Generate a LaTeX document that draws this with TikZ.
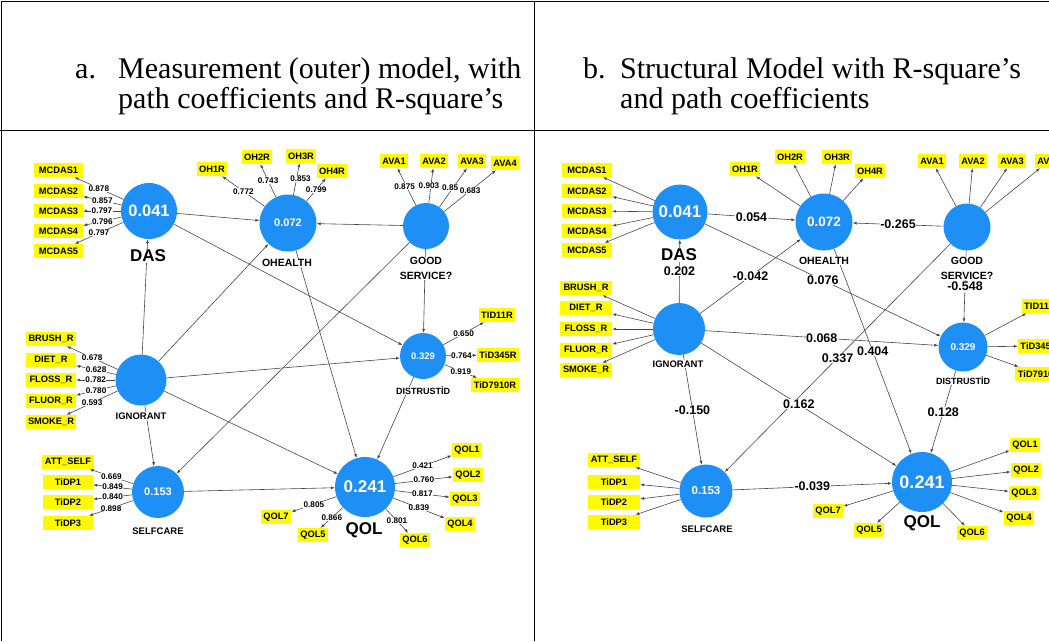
\documentclass[tikz,border=0pt]{standalone}
\usepackage{fontspec}
\setmainfont{Liberation Serif}
\setsansfont{Liberation Sans}
\usetikzlibrary{arrows.meta}
\definecolor{lvblue}{RGB}{30,144,245}
\definecolor{mvyellow}{RGB}{255,250,0}
\definecolor{edgegray}{RGB}{70,70,70}

\begin{document}
\begin{tikzpicture}[x=1pt,y=-1pt]

\tikzset{lv/.style 2 args={circle, fill=lvblue, text=white, inner sep=0pt, minimum size=#1, font=\sffamily\bfseries\fontsize{#2}{#2}\selectfont}}
\tikzset{mv/.style={fill=mvyellow, inner xsep=2.5pt, inner ysep=0pt, minimum height=14pt, font=\sffamily\bfseries\fontsize{9.3}{9.5}\selectfont}}
\tikzset{lvname/.style={fill=white, inner sep=0.5pt, align=center, font=\sffamily\bfseries\fontsize{#1}{#1}\selectfont}}
\tikzset{edge/.style={-{Latex[length=4pt,width=3pt]}, draw=edgegray, line width=0.6pt}}
\tikzset{load/.style={fill=white, inner sep=0.4pt, font=\sffamily\bfseries\fontsize{8.2}{8.2}\selectfont}}
\tikzset{pcoef/.style={fill=white, inner sep=0.6pt, font=\sffamily\bfseries\fontsize{12.5}{12.5}\selectfont}}
\tikzset{head/.style={inner sep=0pt, anchor=base west, font=\fontsize{30}{30}\selectfont}}

\useasboundingbox (0,0) rectangle (1049,641);
\clip (0,0) rectangle (1049,641);

%table
\draw[line width=0.8pt] (1,641) -- (1,1) -- (1049,1);
\draw[line width=0.8pt] (0,130) -- (1049,130);
\draw[line width=0.8pt] (534,1) -- (534,641);
\node[head] (nra) at (75,78) {a.};
\node[head] (hda1) at (118,78) {Measurement (outer) model, with};
\node[head] (hda2) at (118,108) {path coefficients and R-square’s};
\node[head] (nrb) at (583,78) {b.};
\node[head] (hdb1) at (620,78) {Structural Model with R-square’s};
\node[head] (hdb2) at (620,108) {and path coefficients};

%left panel: latent variables
\node[lv={56}{16.5}] (das1) at (149,211) {0.041};
\node[lv={57}{11}] (oh1) at (288,223) {0.072};
\node[lv={46}{10}] (gs1) at (426,226) {};
\node[lv={51}{10}] (ig1) at (141,380) {};
\node[lv={46}{9.5}] (di1) at (423,356) {0.329};
\node[lv={52}{11}] (sc1) at (158,492) {0.153};
\node[lv={60}{17}] (ql1) at (365,487) {0.241};

%left panel: indicators
\node[mv, minimum width=49] (mcdas11) at (58.5,170) {MCDAS1};
\node[mv, minimum width=49] (mcdas12) at (58.5,191) {MCDAS2};
\node[mv, minimum width=49] (mcdas13) at (58.5,211) {MCDAS3};
\node[mv, minimum width=49] (mcdas14) at (58.5,231) {MCDAS4};
\node[mv, minimum width=49] (mcdas15) at (58.5,251) {MCDAS5};
\node[mv] (oh1r1) at (212,169) {OH1R};
\node[mv] (oh2r1) at (257,157) {OH2R};
\node[mv] (oh3r1) at (301,156) {OH3R};
\node[mv] (oh4r1) at (332,171) {OH4R};
\node[mv] (ava11) at (394,161) {AVA1};
\node[mv] (ava21) at (434,161) {AVA2};
\node[mv] (ava31) at (472,161) {AVA3};
\node[mv] (ava41) at (505,163) {AVA4};
\node[mv, minimum width=50] (brush1) at (51,339) {BRUSH\_R};
\node[mv, minimum width=50] (diet1) at (51,360) {DIET\_R};
\node[mv, minimum width=50] (floss1) at (51,380) {FLOSS\_R};
\node[mv, minimum width=50] (fluor1) at (51,401) {FLUOR\_R};
\node[mv, minimum width=50] (smoke1) at (51,422) {SMOKE\_R};
\node[mv] (tid111) at (497,315) {TID11R};
\node[mv] (tid3451) at (498,355) {TiD345R};
\node[mv] (tid79101) at (495,385) {TiD7910R};
\node[mv, minimum width=50] (att1) at (68,462) {ATT\_SELF};
\node[mv, minimum width=50] (tidp11) at (68,482) {TiDP1};
\node[mv, minimum width=50] (tidp21) at (68,502) {TiDP2};
\node[mv, minimum width=50] (tidp31) at (68,523) {TiDP3};
\node[mv] (qol11) at (467,450) {QOL1};
\node[mv] (qol21) at (468,475) {QOL2};
\node[mv] (qol31) at (465,499) {QOL3};
\node[mv] (qol41) at (460,524) {QOL4};
\node[mv] (qol61) at (415,540) {QOL6};
\node[mv] (qol51) at (313,535) {QOL5};
\node[mv] (qol71) at (276,517) {QOL7};

%left panel: outer loadings
\draw[edge] (das1) -- node[load] {0.878} (mcdas11);
\draw[edge] (das1) -- node[load] {0.857} (mcdas12);
\draw[edge] (das1) -- node[load] {0.797} (mcdas13);
\draw[edge] (das1) -- node[load] {0.796} (mcdas14);
\draw[edge] (das1) -- node[load] {0.797} (mcdas15);
\draw[edge] (oh1) -- node[load] {0.772} (oh1r1);
\draw[edge] (oh1) -- node[load] {0.743} (oh2r1);
\draw[edge] (oh1) -- node[load, xshift=4] {0.853} (oh3r1);
\draw[edge] (oh1) -- node[load] {0.799} (oh4r1);
\draw[edge] (gs1) -- node[load, xshift=-2] {0.875} (ava11);
\draw[edge] (gs1) -- node[load, xshift=-2] {0.903} (ava21);
\draw[edge] (gs1) -- node[load, xshift=-3] {0.85} (ava31);
\draw[edge] (gs1) -- node[load] {0.683} (ava41);
\draw[edge] (ig1) -- node[load] {0.678} (brush1);
\draw[edge] (ig1) -- node[load] {0.628} (diet1);
\draw[edge] (ig1) -- node[load] {0.782} (floss1);
\draw[edge] (ig1) -- node[load] {0.780} (fluor1);
\draw[edge] (ig1) -- node[load] {0.593} (smoke1);
\draw[edge] (di1) -- node[load] {0.650} (tid111);
\draw[edge] (di1) -- node[load] {0.764} (tid3451);
\draw[edge] (di1) -- node[load] {0.919} (tid79101);
\draw[edge] (sc1) -- node[load] {0.669} (att1);
\draw[edge] (sc1) -- node[load] {0.849} (tidp11);
\draw[edge] (sc1) -- node[load] {0.840} (tidp21);
\draw[edge] (sc1) -- node[load] {0.898} (tidp31);
\draw[edge] (ql1) -- node[load] {0.421} (qol11);
\draw[edge] (ql1) -- node[load] {0.760} (qol21);
\draw[edge] (ql1) -- node[load] {0.817} (qol31);
\draw[edge] (ql1) -- node[load] {0.839} (qol41);
\draw[edge] (ql1) -- node[load] {0.801} (qol61);
\draw[edge] (ql1) -- node[load] {0.866} (qol51);
\draw[edge] (ql1) -- node[load] {0.805} (qol71);

%left panel: inner model
\draw[edge] (ig1) -- (das1);
\draw[edge] (das1) -- (oh1);
\draw[edge] (das1) -- (di1);
\draw[edge] (gs1) -- (oh1);
\draw[edge] (gs1) -- (di1);
\draw[edge] (gs1) -- (sc1);
\draw[edge] (ig1) -- (oh1);
\draw[edge] (ig1) -- (di1);
\draw[edge] (ig1) -- (sc1);
\draw[edge] (ig1) -- (ql1);
\draw[edge] (oh1) -- (ql1);
\draw[edge] (di1) -- (ql1);
\draw[edge] (sc1) -- (ql1);

%left panel: names
\node[lvname=17] (dasn1) at (148,256) {DAS};
\node[lvname=10.5] (ohn1) at (287,263) {OHEALTH};
\node[lvname=10.5, font=\sffamily\bfseries\fontsize{10.5}{15}\selectfont] (gsn1) at (426,268.5) {GOOD\\SERVICE?};
\node[lvname=9.5] (ign1) at (141,416) {IGNORANT};
\node[lvname=9] (din1) at (423,391) {DISTRUSTİD};
\node[lvname=9.5] (scn1) at (158,531) {SELFCARE};
\node[lvname=17] (qln1) at (364,530) {QOL};

%right panel: latent variables
\node[lv={55}{17}] (das2) at (680,212) {0.041};
\node[lv={57}{13.5}] (oh2) at (824,222) {0.072};
\node[lv={47}{10}] (gs2) at (967,227) {};
\node[lv={52}{10}] (ig2) at (679,329) {};
\node[lv={49}{10}] (di2) at (963,347) {0.329};
\node[lv={53}{11.5}] (sc2) at (706,491) {0.153};
\node[lv={60}{18}] (ql2) at (922,482) {0.241};

%right panel: indicators
\node[mv, minimum width=50] (mcdas12r) at (587,170) {MCDAS1};
\node[mv, minimum width=50] (mcdas22) at (587,191) {MCDAS2};
\node[mv, minimum width=50] (mcdas32) at (587,211) {MCDAS3};
\node[mv, minimum width=50] (mcdas42) at (587,231) {MCDAS4};
\node[mv, minimum width=50] (mcdas52) at (587,250) {MCDAS5};
\node[mv] (oh1r2) at (745,169) {OH1R};
\node[mv] (oh2r2) at (790,157) {OH2R};
\node[mv] (oh3r2) at (837,157) {OH3R};
\node[mv] (oh4r2) at (870,171) {OH4R};
\node[mv] (ava12) at (932,161) {AVA1};
\node[mv] (ava22) at (973,161) {AVA2};
\node[mv] (ava32) at (1012,161) {AVA3};
\node[mv] (ava42) at (1049,161) {AVA4};
\node[mv, minimum width=52] (brush2) at (586,288) {BRUSH\_R};
\node[mv, minimum width=52] (diet2) at (586,308) {DIET\_R};
\node[mv, minimum width=52] (floss2) at (586,329) {FLOSS\_R};
\node[mv, minimum width=52] (fluor2) at (586,350) {FLUOR\_R};
\node[mv, minimum width=52] (smoke2) at (586,370) {SMOKE\_R};
\node[mv] (tid112) at (1040,306) {TID11R};
\node[mv] (tid3452) at (1039,346) {TiD345R};
\node[mv] (tid79102) at (1039,374) {TiD7910R};
\node[mv, minimum width=52] (att2) at (614,460) {ATT\_SELF};
\node[mv, minimum width=52] (tidp12) at (614,482) {TiDP1};
\node[mv, minimum width=52] (tidp22) at (614,502) {TiDP2};
\node[mv, minimum width=52] (tidp32) at (614,522) {TiDP3};
\node[mv] (qol12) at (1025,445) {QOL1};
\node[mv] (qol22) at (1026,470) {QOL2};
\node[mv] (qol32) at (1024,493) {QOL3};
\node[mv] (qol42) at (1019,518) {QOL4};
\node[mv] (qol62) at (972,533) {QOL6};
\node[mv] (qol52) at (869,530) {QOL5};
\node[mv] (qol72) at (828,511) {QOL7};

%right panel: outer model
\draw[edge] (das2) -- (mcdas12r);
\draw[edge] (das2) -- (mcdas22);
\draw[edge] (das2) -- (mcdas32);
\draw[edge] (das2) -- (mcdas42);
\draw[edge] (das2) -- (mcdas52);
\draw[edge] (oh2) -- (oh1r2);
\draw[edge] (oh2) -- (oh2r2);
\draw[edge] (oh2) -- (oh3r2);
\draw[edge] (oh2) -- (oh4r2);
\draw[edge] (gs2) -- (ava12);
\draw[edge] (gs2) -- (ava22);
\draw[edge] (gs2) -- (ava32);
\draw[edge] (gs2) -- (ava42);
\draw[edge] (ig2) -- (brush2);
\draw[edge] (ig2) -- (diet2);
\draw[edge] (ig2) -- (floss2);
\draw[edge] (ig2) -- (fluor2);
\draw[edge] (ig2) -- (smoke2);
\draw[edge] (di2) -- (tid112);
\draw[edge] (di2) -- (tid3452);
\draw[edge] (di2) -- (tid79102);
\draw[edge] (sc2) -- (att2);
\draw[edge] (sc2) -- (tidp12);
\draw[edge] (sc2) -- (tidp22);
\draw[edge] (sc2) -- (tidp32);
\draw[edge] (ql2) -- (qol12);
\draw[edge] (ql2) -- (qol22);
\draw[edge] (ql2) -- (qol32);
\draw[edge] (ql2) -- (qol42);
\draw[edge] (ql2) -- (qol62);
\draw[edge] (ql2) -- (qol52);
\draw[edge] (ql2) -- (qol72);

%right panel: path coefficients
\draw[edge] (ig2) -- node[pcoef] {0.202} (das2);
\draw[edge] (das2) -- node[pcoef] {0.054} (oh2);
\draw[edge] (das2) -- node[pcoef] {0.076} (di2);
\draw[edge] (gs2) -- node[pcoef] {-0.265} (oh2);
\draw[edge] (gs2) -- node[pcoef] {-0.548} (di2);
\draw[edge] (gs2) -- node[pcoef] {0.337} (sc2);
\draw[edge] (ig2) -- node[pcoef] {-0.042} (oh2);
\draw[edge] (ig2) -- node[pcoef] {0.068} (di2);
\draw[edge] (ig2) -- node[pcoef] {-0.150} (sc2);
\draw[edge] (ig2) -- node[pcoef] {0.162} (ql2);
\draw[edge] (oh2) -- node[pcoef] {0.404} (ql2);
\draw[edge] (di2) -- node[pcoef] {0.128} (ql2);
\draw[edge] (sc2) -- node[pcoef] {-0.039} (ql2);

%right panel: names
\node[lvname=17] (dasn2) at (679,255) {DAS};
\node[lvname=10.5] (ohn2) at (824,261) {OHEALTH};
\node[lvname=10.5, font=\sffamily\bfseries\fontsize{10.5}{15}\selectfont] (gsn2) at (967,268.5) {GOOD\\SERVICE?};
\node[lvname=9.5] (ign2) at (678,364) {IGNORANT};
\node[lvname=9] (din2) at (963,381) {DISTRUSTİD};
\node[lvname=9.5] (scn2) at (707,529) {SELFCARE};
\node[lvname=17] (qln2) at (922,523) {QOL};

\end{tikzpicture}
\end{document}
